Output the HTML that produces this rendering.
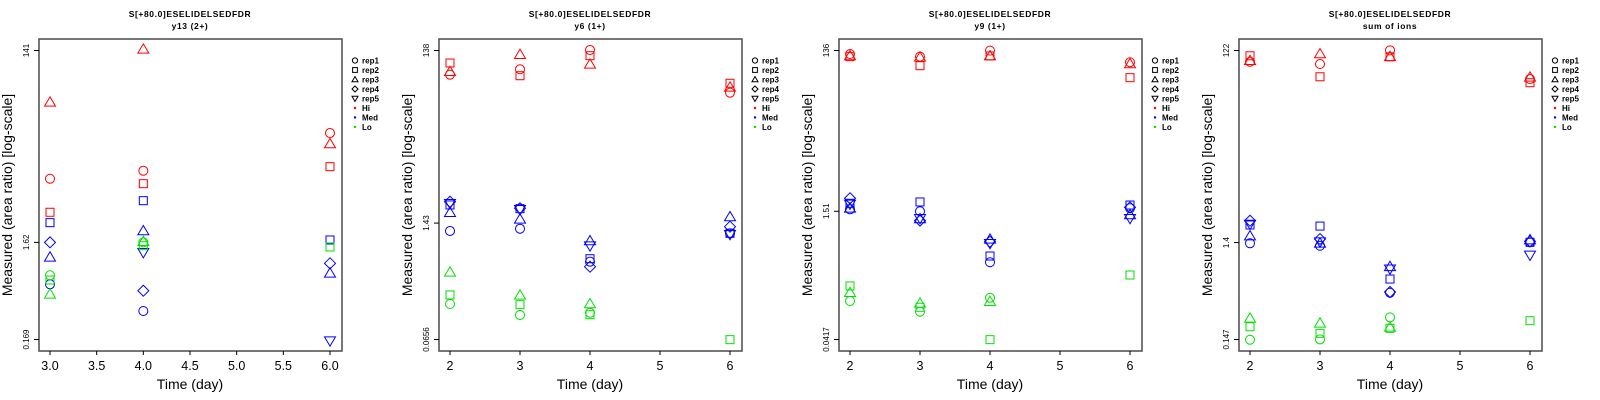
<!DOCTYPE html>
<html><head><meta charset="utf-8">
<style>
html,body{margin:0;padding:0;background:#fff;}
svg{display:block;font-family:"Liberation Sans",sans-serif;}
</style></head>
<body>
<svg id="chart" width="1600" height="400" viewBox="0 0 1600 400" xmlns="http://www.w3.org/2000/svg"></svg>
<script>
// ---- data (values stored as log10 of measured area ratio) ----
const titleLine1 = "S[+80.0]ESELIDELSEDFDR";
const panelSubtitles = ["y13 (2+)", "y6 (1+)", "y9 (1+)", "sum of ions"];
const p1Days = [3, 4, 6];
const p2Days = [2, 3, 4, 6];
const p3Days = [2, 3, 4, 6];
const p4Days = [2, 3, 4, 6];
const p1XTicks = [3.0, 3.5, 4.0, 4.5, 5.0, 5.5, 6.0];
const p2XTicks = [2, 3, 4, 5, 6];
const p3XTicks = [2, 3, 4, 5, 6];
const p4XTicks = [2, 3, 4, 5, 6];
const p1YTicks = ["141", "1.62", "0.169"];
const p2YTicks = ["138", "1.43", "0.0656"];
const p3YTicks = ["136", "1.51", "0.0417"];
const p4YTicks = ["122", "1.4", "0.147"];
// rows = rep1..rep5, columns = days
const p1Hi = [[0.853,0.934,1.315],[0.514,0.803,0.975],[1.625,2.161,1.204],[null,null,null],[null,null,null]];
const p1Med = [[-0.214,-0.484,null],[0.409,0.631,0.234],[0.059,0.325,-0.103],[0.210,-0.279,-0.002],[null,0.109,-0.784]];
const p1Lo = [[-0.123,0.210,null],[-0.171,0.176,0.163],[-0.315,0.217,null],[null,null,null],[null,null,null]];
const p2Hi = [[1.862,1.924,2.146,1.655],[1.996,1.850,2.080,1.763],[1.896,2.092,1.981,1.717],[null,null,null,null],[null,null,null,null]];
const p2Med = [[0.065,0.091,-0.288,0.038],[0.364,0.321,-0.254,0.038],[0.275,0.199,-0.050,0.226],[0.401,0.326,-0.346,0.114],[0.383,0.314,-0.104,0.027]];
const p2Lo = [[-0.775,-0.901,-0.875,null],[-0.671,-0.783,-0.898,-1.185],[-0.410,-0.675,-0.775,null],[null,null,null,null],[null,null,null,null]];
const p3Hi = [[2.091,2.059,2.132,1.991],[2.059,1.949,2.067,1.803],[2.067,2.051,2.067,1.970],[null,null,null,null],[null,null,null,null]];
const p3Med = [[0.203,0.179,-0.441,0.215],[0.276,0.292,-0.365,0.255],[0.215,0.085,-0.162,0.134],[0.337,0.065,-0.191,0.227],[0.268,0.094,-0.210,0.094]];
const p3Lo = [[-0.912,-1.042,-0.872,null],[-0.729,-0.988,-1.382,-0.596],[-0.811,-0.940,-0.920,null],[null,null,null,null],[null,null,null,null]];
const p4Hi = [[1.973,1.950,2.088,1.798],[2.033,1.821,2.023,1.761],[1.983,2.051,2.023,1.815],[null,null,null,null],[null,null,null,null]];
const p4Med = [[0.139,0.114,-0.360,0.149],[0.324,0.313,-0.222,0.149],[0.212,0.139,-0.098,0.172],[0.367,0.182,-0.353,0.159],[0.334,0.155,-0.118,0.021]];
const p4Lo = [[-0.835,-0.831,-0.609,null],[-0.704,-0.770,-0.720,-0.643],[-0.619,-0.669,-0.710,null],[null,null,null,null],[null,null,null,null]];

const repNames = ["rep1","rep2","rep3","rep4","rep5"];
const groupNames = ["Hi","Med","Lo"];
const groupColors = ["#ff0000","#0000ff","#00e000"];

const NS = "http://www.w3.org/2000/svg";
const svg = document.getElementById("chart");
function mk(tag, attrs, parent){const e=document.createElementNS(NS,tag);for(const k in attrs)e.setAttribute(k,attrs[k]);(parent||svg).appendChild(e);return e;}

function marker(g, shape, cx, cy, col){
  let e;
  const st={fill:"none",stroke:col,"stroke-width":1};
  if(shape===0){e=mk("circle",Object.assign({cx:cx,cy:cy,r:4.5},st),g);}
  else if(shape===1){e=mk("rect",Object.assign({x:cx-4,y:cy-4,width:8,height:8},st),g);}
  else if(shape===2){e=mk("polygon",Object.assign({points:`${cx},${cy-5.5} ${cx-5.5},${cy+3.8} ${cx+5.5},${cy+3.8}`},st),g);}
  else if(shape===3){e=mk("polygon",Object.assign({points:`${cx},${cy-5.5} ${cx+5.5},${cy} ${cx},${cy+5.5} ${cx-5.5},${cy}`},st),g);}
  else {e=mk("polygon",Object.assign({points:`${cx},${cy+5.5} ${cx-5.5},${cy-3.8} ${cx+5.5},${cy-3.8}`},st),g);}
  return e;
}

const panels = [
  {days:p1Days,xt:p1XTicks,yt:p1YTicks,data:[p1Hi,p1Med,p1Lo],dec:1},
  {days:p2Days,xt:p2XTicks,yt:p2YTicks,data:[p2Hi,p2Med,p2Lo],dec:0},
  {days:p3Days,xt:p3XTicks,yt:p3YTicks,data:[p3Hi,p3Med,p3Lo],dec:0},
  {days:p4Days,xt:p4XTicks,yt:p4YTicks,data:[p4Hi,p4Med,p4Lo],dec:0}
];

panels.forEach((p,pi)=>{
  const ox = pi*400;
  const g = mk("g",{});
  
  
  const xmin=p.xt[0], xmax=p.xt[p.xt.length-1];
  const xs = v => ox + 50 + (v-xmin)/(xmax-xmin)*280;
  const lTop = Math.log10(parseFloat(p.yt[0])), lBot = Math.log10(parseFloat(p.yt[2]));
  const ys = L => 50.5 + (lTop-L)/(lTop-lBot)*289;
  // titles
  const t1 = mk("text",{x:ox+190,y:17,"text-anchor":"middle","font-size":8.5,"font-weight":"bold","letter-spacing":"0.6"},g);
  t1.textContent = titleLine1;
  
  
  const t2 = mk("text",{x:ox+190,y:29,"text-anchor":"middle","font-size":8.5,"font-weight":"bold","letter-spacing":"0.6"},g);
  t2.textContent = panelSubtitles[pi];
  
  
  // frame
  const fr = mk("rect",{x:ox+39,y:39,width:303,height:312,fill:"none",stroke:"#555","stroke-width":1.6},g);
  
  
  // x ticks
  p.xt.forEach(v=>{
    const x = xs(v);
    mk("line",{x1:x,x2:x,y1:351,y2:355,stroke:"#000","stroke-width":1},g);
    const tl = mk("text",{x:x,y:370,"text-anchor":"middle","font-size":12.5},g);
    tl.textContent = v.toFixed(p.dec);
    
    
  });
  const xt = mk("text",{x:ox+190,y:389,"text-anchor":"middle","font-size":14},g);
  xt.textContent = "Time (day)";
  
  
  // y ticks
  p.yt.forEach(s=>{
    const y = ys(Math.log10(parseFloat(s)));
    mk("line",{x1:ox+34,x2:ox+39,y1:y,y2:y,stroke:"#000","stroke-width":1},g);
    const tl = mk("text",{x:0,y:0,"text-anchor":"middle","font-size":8,transform:`translate(${ox+29},${y}) rotate(-90)`},g);
    tl.textContent = s;
    
    
  });
  const yt = mk("text",{x:0,y:0,"text-anchor":"middle","font-size":14,transform:`translate(${ox+12},195) rotate(-90)`},g);
  yt.textContent = "Measured (area ratio) [log-scale]";
  
  
  // points
  p.data.forEach((grp,gi)=>{
    grp.forEach((rep,ri)=>{
      rep.forEach((L,di)=>{
        if(L===null) return;
        const m = marker(g, ri, xs(p.days[di]), ys(L), groupColors[gi]);
        
        
      });
    });
  });
  // legend
  const lg = mk("g",{},g);
  
  
  const labels = repNames.concat(groupNames);
  labels.forEach((lab,i)=>{
    const y = 60.5 + i*9.5;
    const lx = ox+355;
    if(i<5){
      const s=2.6;
      if(i===0) mk("circle",{cx:lx,cy:y,r:2.6,fill:"none",stroke:"#000","stroke-width":1},lg);
      else if(i===1) mk("rect",{x:lx-2.4,y:y-2.4,width:4.8,height:4.8,fill:"none",stroke:"#000","stroke-width":1},lg);
      else if(i===2) mk("polygon",{points:`${lx},${y-3} ${lx-3},${y+2.2} ${lx+3},${y+2.2}`,fill:"none",stroke:"#000","stroke-width":1},lg);
      else if(i===3) mk("polygon",{points:`${lx},${y-3} ${lx+3},${y} ${lx},${y+3} ${lx-3},${y}`,fill:"none",stroke:"#000","stroke-width":1},lg);
      else mk("polygon",{points:`${lx},${y+3} ${lx-3},${y-2.2} ${lx+3},${y-2.2}`,fill:"none",stroke:"#000","stroke-width":1},lg);
    } else {
      mk("circle",{cx:lx,cy:y,r:1.2,fill:groupColors[i-5]},lg);
    }
    const tx = mk("text",{x:ox+362,y:y+3,"font-size":8,"font-weight":"bold"},lg);
    tx.textContent = lab;
    
    
  });
});
</script>
</body></html>
